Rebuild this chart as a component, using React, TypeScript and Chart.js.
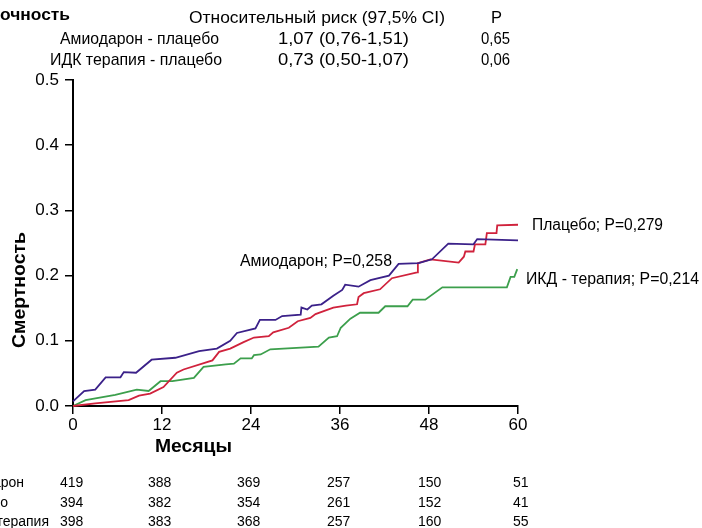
import React, { useEffect, useRef } from "react";
import { Chart, registerables } from "chart.js";

Chart.register(...registerables);

const amioMonths = [0, 1.5, 3.0, 4.4, 6.4, 6.85, 8.5, 10.6, 13.8, 17.0, 19.4, 21.2, 22.1, 24.6, 25.2, 27.3, 28.2, 30.7, 30.8, 31.6, 32.2, 33.5, 35.1, 36.3, 36.7, 38.5, 40.1, 42.6, 43.9, 46.6, 48.4, 50.6, 54.0, 54.5, 60];
const amioValues = [0.007, 0.023, 0.025, 0.044, 0.044, 0.052, 0.051, 0.071, 0.074, 0.084, 0.088, 0.1, 0.112, 0.119, 0.132, 0.132, 0.138, 0.14, 0.151, 0.148, 0.154, 0.156, 0.169, 0.178, 0.186, 0.183, 0.193, 0.2, 0.218, 0.219, 0.225, 0.249, 0.248, 0.256, 0.254];

const placeboMonths = [0, 3, 7.5, 8.9, 10.4, 12.2, 14.0, 14.9, 18.8, 19.7, 21.2, 23.0, 24.4, 26.4, 27.0, 29.1, 30.3, 32.0, 32.7, 35.1, 36.8, 38.3, 38.5, 39.2, 41.4, 43.0, 46.4, 46.5, 48.2, 52.0, 52.7, 52.9, 54.0, 54.2, 55.6, 55.8, 57.1, 57.2, 60];
const placeboValues = [0, 0.004, 0.009, 0.016, 0.019, 0.029, 0.051, 0.056, 0.07, 0.083, 0.088, 0.098, 0.105, 0.107, 0.113, 0.12, 0.13, 0.135, 0.141, 0.151, 0.154, 0.156, 0.167, 0.173, 0.179, 0.196, 0.205, 0.219, 0.225, 0.22, 0.229, 0.237, 0.237, 0.248, 0.248, 0.265, 0.265, 0.277, 0.278];

const icdMonths = [0, 1.7, 5.7, 8.6, 10.2, 11.8, 13.4, 16.3, 17.6, 20.6, 21.7, 22.6, 24.1, 24.4, 25.3, 26.6, 33.1, 34.5, 35.6, 36.1, 37.4, 38.7, 41.2, 42.1, 45.1, 45.8, 47.5, 49.8, 58.5, 59.0, 59.5, 59.9];
const icdValues = [0, 0.009, 0.017, 0.025, 0.023, 0.038, 0.038, 0.043, 0.06, 0.064, 0.065, 0.073, 0.073, 0.078, 0.079, 0.087, 0.091, 0.105, 0.107, 0.12, 0.134, 0.143, 0.143, 0.153, 0.153, 0.163, 0.163, 0.182, 0.182, 0.198, 0.198, 0.21];

const seriesLabels = ["Амиодарон; P=0,258", "Плацебо; P=0,279", "ИКД - терапия; P=0,214"];
const seriesColors = ["#3b2189", "#d0223c", "#3c9f4c"];

const xTicks = [0, 12, 24, 36, 48, 60];
const yTicks = [0, 0.1, 0.2, 0.3, 0.4, 0.5];

const headerTitle = "очность";
const headerCols = ["Относительный риск (97,5% CI)", "P"];
const compNames = ["Амиодарон - плацебо", "ИДК терапия - плацебо"];
const compRisk = ["1,07 (0,76-1,51)", "0,73 (0,50-1,07)"];
const compP = ["0,65", "0,06"];

const tableNames = ["Амиодарон", "Плацебо", "ИКД терапия"];
const tableAmio = [419, 388, 369, 257, 150, 51];
const tablePlacebo = [394, 382, 354, 261, 152, 41];
const tableIcd = [398, 383, 368, 257, 160, 55];

const FONT = '"Liberation Sans", Arial, Helvetica, sans-serif';

function fitText(ctx: CanvasRenderingContext2D, text: string, x: number, y: number, width: number, font: string) {
  ctx.save();
  ctx.font = font;
  ctx.textAlign = "left";
  ctx.textBaseline = "middle";
  const w = ctx.measureText(text).width;
  ctx.translate(x, y);
  ctx.scale(width / w, 1);
  ctx.fillText(text, 0, 0);
  ctx.restore();
}

const textPlugin = {
  id: "texts",
  afterDraw(chart: any) {
    const ctx: CanvasRenderingContext2D = chart.ctx;
    ctx.save();
    ctx.fillStyle = "#000";
    // header
    fitText(ctx, headerTitle, 0, 15, 70, "bold 17px " + FONT);
    fitText(ctx, headerCols[0], 189, 18, 256, "17px " + FONT);
    fitText(ctx, headerCols[1], 491, 18, 11, "17px " + FONT);
    const rowY = [39, 60];
    const nameX = [60, 50];
    const nameW = [159, 172];
    for (let i = 0; i < 2; i++) {
      fitText(ctx, compNames[i], nameX[i], rowY[i], nameW[i], "17px " + FONT);
      fitText(ctx, compRisk[i], 278, rowY[i], 131, "17px " + FONT);
      fitText(ctx, compP[i], 481, rowY[i], 29, "17px " + FONT);
    }
    // series labels
    fitText(ctx, seriesLabels[0], 240, 262, 152, "16px " + FONT);
    fitText(ctx, seriesLabels[1], 532, 226, 131, "16px " + FONT);
    fitText(ctx, seriesLabels[2], 526, 280, 173, "16px " + FONT);
    // axis titles
    fitText(ctx, "Месяцы", 155, 447, 77, "bold 19px " + FONT);
    ctx.save();
    ctx.translate(20, 290);
    ctx.rotate(-Math.PI / 2);
    fitText(ctx, "Смертность", -58, 0, 116, "bold 19px " + FONT);
    ctx.restore();
    // number-at-risk table
    const tY = [483, 503, 522];
    const tEnd = [24, 8, 49];
    const rows = [tableAmio, tablePlacebo, tableIcd];
    const colX = [60, 148, 237, 327, 418, 513];
    ctx.font = "14px " + FONT;
    ctx.textBaseline = "middle";
    for (let r = 0; r < 3; r++) {
      ctx.textAlign = "right";
      ctx.fillText(tableNames[r], tEnd[r], tY[r]);
      ctx.textAlign = "left";
      for (let c = 0; c < rows[r].length; c++) {
        ctx.fillText(String(rows[r][c]), colX[c], tY[r]);
      }
    }
    ctx.restore();
  },
};

function toPoints(xs: number[], ys: number[]) {
  return xs.map((x, i) => ({ x, y: ys[i] }));
}

export default function App() {
  const ref = useRef<HTMLCanvasElement | null>(null);
  useEffect(() => {
    if (!ref.current) return;
    Chart.defaults.font.family = FONT;
    const chart = new Chart(ref.current, {
      type: "line",
      data: {
        datasets: [
          { label: seriesLabels[0], data: toPoints(amioMonths, amioValues), borderColor: seriesColors[0] },
          { label: seriesLabels[1], data: toPoints(placeboMonths, placeboValues), borderColor: seriesColors[1] },
          { label: seriesLabels[2], data: toPoints(icdMonths, icdValues), borderColor: seriesColors[2] },
        ].map((d) => ({ ...d, borderWidth: 1.8, pointRadius: 0, tension: 0, fill: false, clip: 4 })),
      },
      options: {
        animation: false,
        responsive: false,
        events: [],
        layout: { padding: { left: 0, top: 80, right: 184, bottom: 0 } },
        plugins: { legend: { display: false }, tooltip: { enabled: false } },
        scales: {
          x: {
            type: "linear",
            min: 0,
            max: 60,
            afterBuildTicks: (s: any) => { s.ticks = xTicks.map((v) => ({ value: v })); },
            afterFit: (s: any) => { s.height = 122; },
            ticks: { color: "#000", font: { size: 17 }, padding: 1, maxRotation: 0, autoSkip: false },
            grid: { drawOnChartArea: false, drawTicks: true, tickLength: 8, color: "#000", lineWidth: 1.5 },
            border: { display: true, color: "#000", width: 2 },
          },
          y: {
            type: "linear",
            min: 0,
            max: 0.5,
            afterBuildTicks: (s: any) => { s.ticks = yTicks.map((v) => ({ value: v })); },
            afterFit: (s: any) => { s.width = 73; },
            ticks: { color: "#000", font: { size: 17 }, padding: 6, callback: (v: any) => Number(v).toFixed(1), autoSkip: false },
            grid: { drawOnChartArea: false, drawTicks: true, tickLength: 8, color: "#000", lineWidth: 1.5 },
            border: { display: true, color: "#000", width: 2 },
          },
        },
      },
      plugins: [textPlugin],
    } as any);
    return () => chart.destroy();
  }, []);
  return (
    <div style={{ position: "fixed", left: 0, top: 0, width: 702, height: 528, background: "#fff" }}>
      <canvas ref={ref} width={702} height={528} style={{ width: 702, height: 528, display: "block" }} />
    </div>
  );
}
